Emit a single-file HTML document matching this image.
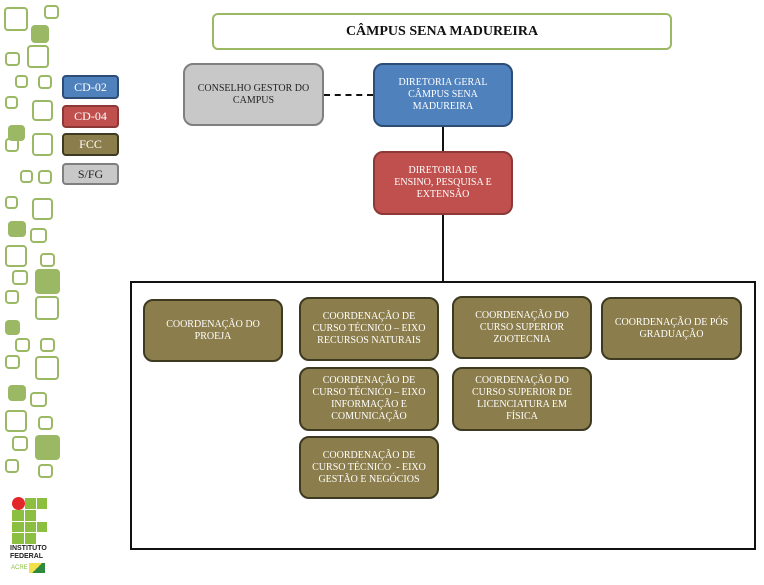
<!DOCTYPE html>
<html><head><meta charset="utf-8"><style>
body{margin:0;width:764px;height:585px;background:#fff;position:relative;overflow:hidden;font-family:"Liberation Serif",serif;}
.a{position:absolute;box-sizing:border-box;}
.o{border:2.5px solid #9bb865;border-radius:4px;}
.f{background:#9bb865;border-radius:4px;}
.n{display:flex;align-items:center;justify-content:center;text-align:center;border-radius:10px;font-size:10px;line-height:12px;color:#fff;}
.ol{background:#8b7d4c;border:2.5px solid #3e3a22;color:#fff;}
.lg{border-radius:4px;font-size:12px;display:flex;align-items:center;justify-content:center;color:#fff;}
.g{background:#8cbf3f;}
</style></head><body>
<!-- decorative squares -->
<div class="a o" style="left:4px;top:7px;width:24px;height:24px"></div>
<div class="a o" style="left:44px;top:5px;width:15px;height:14px"></div>
<div class="a f" style="left:31px;top:25px;width:18px;height:18px"></div>
<div class="a o" style="left:5px;top:52px;width:15px;height:14px"></div>
<div class="a o" style="left:27px;top:45px;width:22px;height:23px"></div>
<div class="a o" style="left:15px;top:75px;width:13px;height:13px"></div>
<div class="a o" style="left:38px;top:75px;width:14px;height:14px"></div>
<div class="a o" style="left:5px;top:96px;width:13px;height:13px"></div>
<div class="a o" style="left:32px;top:100px;width:21px;height:21px"></div>
<div class="a f" style="left:8px;top:125px;width:17px;height:16px"></div>
<div class="a o" style="left:5px;top:138px;width:14px;height:14px"></div>
<div class="a o" style="left:32px;top:133px;width:21px;height:23px"></div>
<div class="a o" style="left:20px;top:170px;width:13px;height:13px"></div>
<div class="a o" style="left:38px;top:170px;width:14px;height:14px"></div>
<div class="a o" style="left:5px;top:196px;width:13px;height:13px"></div>
<div class="a o" style="left:32px;top:198px;width:21px;height:22px"></div>
<div class="a f" style="left:8px;top:221px;width:18px;height:16px"></div>
<div class="a o" style="left:30px;top:228px;width:17px;height:15px"></div>
<div class="a o" style="left:5px;top:245px;width:22px;height:22px"></div>
<div class="a o" style="left:40px;top:253px;width:15px;height:14px"></div>
<div class="a o" style="left:12px;top:270px;width:16px;height:15px"></div>
<div class="a f" style="left:35px;top:269px;width:25px;height:25px"></div>
<div class="a o" style="left:5px;top:290px;width:14px;height:14px"></div>
<div class="a o" style="left:35px;top:296px;width:24px;height:24px"></div>
<div class="a f" style="left:5px;top:320px;width:15px;height:15px"></div>
<div class="a o" style="left:15px;top:338px;width:15px;height:14px"></div>
<div class="a o" style="left:40px;top:338px;width:15px;height:14px"></div>
<div class="a o" style="left:5px;top:355px;width:15px;height:14px"></div>
<div class="a o" style="left:35px;top:356px;width:24px;height:24px"></div>
<div class="a f" style="left:8px;top:385px;width:18px;height:16px"></div>
<div class="a o" style="left:30px;top:392px;width:17px;height:15px"></div>
<div class="a o" style="left:5px;top:410px;width:22px;height:22px"></div>
<div class="a o" style="left:38px;top:416px;width:15px;height:14px"></div>
<div class="a o" style="left:12px;top:436px;width:16px;height:15px"></div>
<div class="a f" style="left:35px;top:435px;width:25px;height:25px"></div>
<div class="a o" style="left:5px;top:459px;width:14px;height:14px"></div>
<div class="a o" style="left:38px;top:464px;width:15px;height:14px"></div>
<!-- logo -->
<div class="a" style="left:12px;top:497px;width:13px;height:13px;border-radius:50%;background:#e2262a"></div>
<div class="a g" style="left:25px;top:498px;width:11px;height:11px"></div>
<div class="a g" style="left:37px;top:498px;width:10px;height:11px"></div>
<div class="a g" style="left:12px;top:510px;width:12px;height:11px"></div>
<div class="a g" style="left:25px;top:510px;width:11px;height:11px"></div>
<div class="a g" style="left:12px;top:522px;width:12px;height:10px"></div>
<div class="a g" style="left:25px;top:522px;width:11px;height:10px"></div>
<div class="a g" style="left:37px;top:522px;width:10px;height:10px"></div>
<div class="a g" style="left:12px;top:533px;width:12px;height:11px"></div>
<div class="a g" style="left:25px;top:533px;width:11px;height:11px"></div>
<div class="a" style="left:10px;top:545px;font:bold 7px/8px 'Liberation Sans',sans-serif;color:#222">INSTITUTO<br>FEDERAL</div>
<div class="a" style="left:11px;top:565px;font:6px 'Liberation Sans',sans-serif;color:#8cbf3f">ACRE</div>
<div class="a" style="left:29px;top:563px;width:16px;height:10px;background:linear-gradient(135deg,#f4e04d 50%,#2d8a3e 50%)"></div>
<!-- legend -->
<div class="a lg" style="left:62px;top:75px;width:57px;height:24px;background:#4f81bd;border:2px solid #2c4d75">CD-02</div>
<div class="a lg" style="left:62px;top:105px;width:57px;height:23px;background:#c0504d;border:2px solid #8c3836">CD-04</div>
<div class="a lg" style="left:62px;top:133px;width:57px;height:23px;background:#8b7d4c;border:2px solid #3e3a22">FCC</div>
<div class="a lg" style="left:62px;top:163px;width:57px;height:22px;background:#c8c8c8;border:2px solid #7f7f7f;color:#222">S/FG</div>
<!-- title -->
<div class="a" style="left:212px;top:13px;width:460px;height:37px;border:2.5px solid #9bb865;border-radius:6px;display:flex;align-items:center;justify-content:center;font-weight:bold;font-size:14px;color:#111">CÂMPUS SENA MADUREIRA</div>
<div class="a n" style="left:183px;top:63px;width:141px;height:63px;background:#c8c8c8;border:2.5px solid #7f7f7f;color:#222">CONSELHO GESTOR DO<br>CAMPUS</div>
<div class="a" style="left:324px;top:94px;width:49px;border-top:2px dashed #111"></div>
<div class="a n" style="left:373px;top:63px;width:140px;height:64px;background:#4f81bd;border:2.5px solid #2c4d75">DIRETORIA GERAL<br>CÂMPUS SENA<br>MADUREIRA</div>
<div class="a" style="left:442px;top:127px;width:2px;height:24px;background:#111"></div>
<div class="a n" style="left:373px;top:151px;width:140px;height:64px;background:#c0504d;border:2.5px solid #8c3836">DIRETORIA DE<br>ENSINO, PESQUISA E<br>EXTENSÃO</div>
<div class="a" style="left:442px;top:215px;width:2px;height:67px;background:#111"></div>
<div class="a" style="left:130px;top:281px;width:626px;height:269px;border:2px solid #111"></div>
<div class="a n ol" style="left:143px;top:299px;width:140px;height:63px">COORDENAÇÃO DO<br>PROEJA</div>
<div class="a n ol" style="left:299px;top:297px;width:140px;height:64px">COORDENAÇÃO DE<br>CURSO TÉCNICO – EIXO<br>RECURSOS NATURAIS</div>
<div class="a n ol" style="left:452px;top:296px;width:140px;height:63px">COORDENAÇÃO DO<br>CURSO SUPERIOR<br>ZOOTECNIA</div>
<div class="a n ol" style="left:601px;top:297px;width:141px;height:63px">COORDENAÇÃO DE PÓS<br>GRADUAÇÃO</div>
<div class="a n ol" style="left:299px;top:367px;width:140px;height:64px">COORDENAÇÃO DE<br>CURSO TÉCNICO – EIXO<br>INFORMAÇÃO E<br>COMUNICAÇÃO</div>
<div class="a n ol" style="left:452px;top:367px;width:140px;height:64px">COORDENAÇÃO DO<br>CURSO SUPERIOR DE<br>LICENCIATURA EM<br>FÍSICA</div>
<div class="a n ol" style="left:299px;top:436px;width:140px;height:63px">COORDENAÇÃO DE<br>CURSO TÉCNICO &nbsp;- EIXO<br>GESTÃO E NEGÓCIOS</div>
</body></html>
